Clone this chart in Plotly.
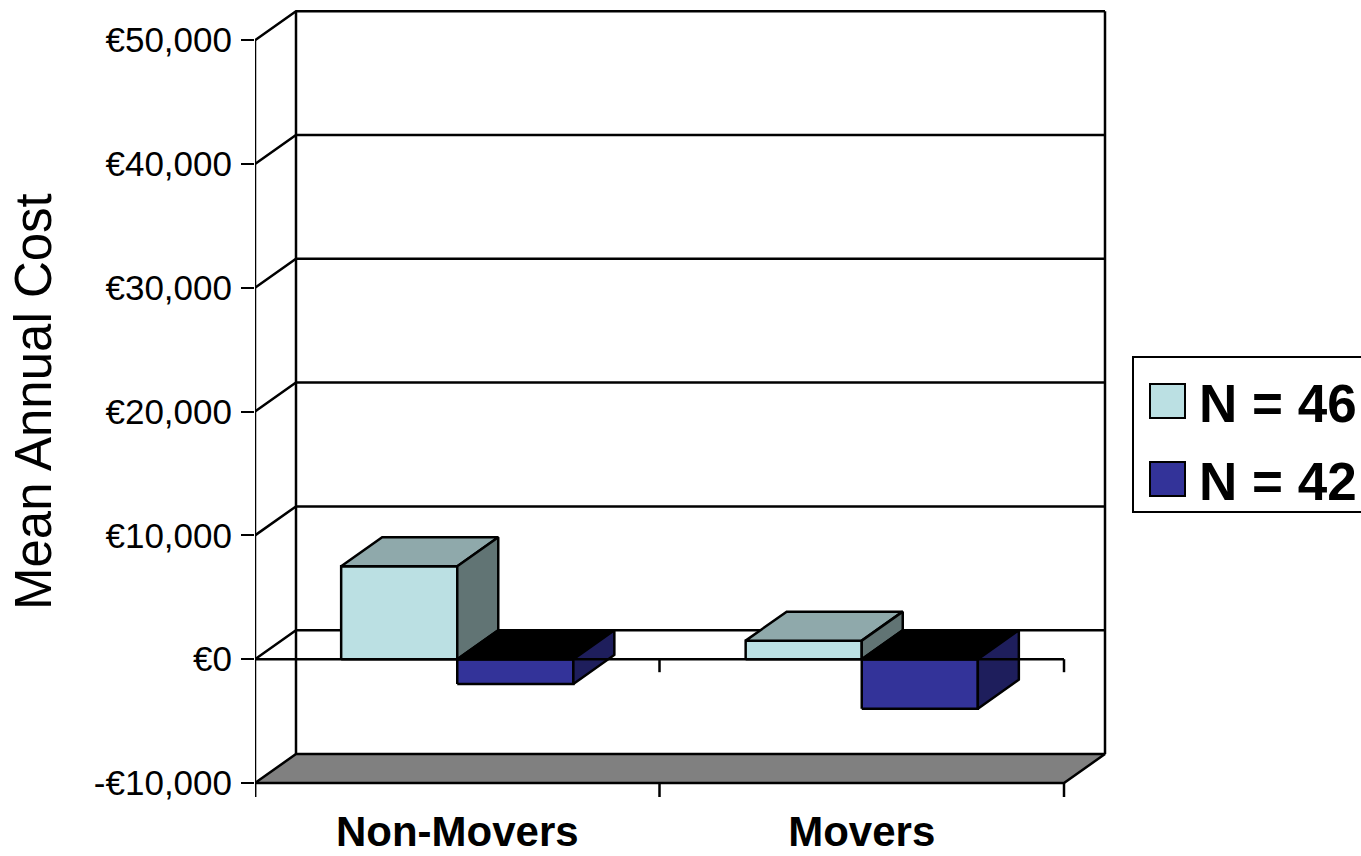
import plotly.graph_objects as go

# ---------------- data ----------------
categories = ["Non-Movers", "Movers"]
series_names = ["N = 46", "N = 42"]
n46_values = [7500, 1500]
n42_values = [-2000, -4000]
y_tick_values = [-10000, 0, 10000, 20000, 30000, 40000, 50000]
y_tick_labels = ["-€10,000", "€0", "€10,000", "€20,000", "€30,000", "€40,000", "€50,000"]
y_title = "Mean Annual Cost"

# ---------------- style ----------------
FONT = "Arial, Liberation Sans, sans-serif"
front_colors = ["#BBE0E3", "#333399"]
top_colors = ["#8FA9AB", "#000000"]
side_colors = ["#617474", "#1E1E5C"]
floor_color = "#808080"
W, H = 1361, 856
L, R, T, B = 255, 1108, 8, 797          # plot area in pixels
PX_PER_CAT = 404.5                       # pixels per category unit
PX_PER_1000 = 12.38                      # pixels per 1000 value units
DEPTH_PX = (41, 29)                      # 3D depth offset (right, up)
BAR_W = 0.287                            # bar width in category units
LW = 2.5

dx = DEPTH_PX[0] / PX_PER_CAT
dy = DEPTH_PX[1] / PX_PER_1000 * 1000
ncat = len(categories)
ymin_tick, ymax_tick = min(y_tick_values), max(y_tick_values)
x_range = [0, (R - L) / PX_PER_CAT]
y_bottom = ymin_tick - 14 / PX_PER_1000 * 1000  # extend 14px below floor
y_top = y_bottom + (B - T) / PX_PER_1000 * 1000
tick_len_val = 13 / PX_PER_1000 * 1000

fig = go.Figure()


def poly(xs, ys, fill, lw=LW, color="black"):
    fig.add_trace(go.Scatter(
        x=list(xs) + [xs[0]], y=list(ys) + [ys[0]],
        mode="lines", fill="toself" if fill else None, fillcolor=fill,
        line=dict(color=color, width=lw), hoverinfo="skip", showlegend=False))


def lines(xs, ys, lw=LW):
    fig.add_trace(go.Scatter(x=xs, y=ys, mode="lines",
                             line=dict(color="black", width=lw),
                             hoverinfo="skip", showlegend=False))


# floor
f = ymin_tick
poly([0, ncat, ncat + dx, dx], [f, f, f + dy, f + dy], floor_color)

# walls: gridlines (diagonal on left wall + horizontal on back wall)
gx, gy = [], []
for t in y_tick_values:
    if t == ymin_tick:
        continue
    gx += [0, dx, ncat + dx, None]
    gy += [t, t + dy, t + dy, None]
# back wall verticals
gx += [dx, dx, None, ncat + dx, ncat + dx, None]
gy += [ymin_tick + dy, ymax_tick + dy, None, ymin_tick + dy, ymax_tick + dy, None]
lines(gx, gy)

# bars (painter's order: left to right)
all_series = [n46_values, n42_values]
for ci in range(ncat):
    for si, vals in enumerate(all_series):
        v = vals[ci]
        x0 = ci + 0.5 - BAR_W + si * BAR_W
        x1 = x0 + BAR_W
        lo, hi = min(v, 0), max(v, 0)
        # front
        poly([x0, x1, x1, x0], [lo, lo, hi, hi], front_colors[si])
        # top
        poly([x0, x1, x1 + dx, x0 + dx], [hi, hi, hi + dy, hi + dy], top_colors[si])
        # side
        poly([x1, x1, x1 + dx, x1 + dx], [lo, hi, hi + dy, lo + dy], side_colors[si])

# front axes: zero line with ticks, left value axis line, bottom ticks
ax, ay = [0, ncat, None], [0, 0, None]
for k in range(1, ncat + 1):
    ax += [k, k, None]
    ay += [0, -tick_len_val, None]
ax += [0, 0, None]
ay += [y_bottom, ymax_tick, None]
for k in range(0, ncat + 1):
    ax += [k, k, None]
    ay += [ymin_tick, y_bottom, None]
lines(ax, ay)


# ---------------- legend (manual, large swatches) ----------------
def pxx(p):
    return (p - L) / (R - L)


def pxy(p):
    return (B - p) / (B - T)


shapes = [dict(type="rect", xref="paper", yref="paper",
               x0=pxx(1133), x1=pxx(1375), y0=pxy(512), y1=pxy(357),
               line=dict(color="black", width=2), fillcolor="white", layer="below")]
annotations = []
row_centers = [401, 479]
for si, name in enumerate(series_names):
    yc = row_centers[si]
    shapes.append(dict(type="rect", xref="paper", yref="paper",
                       x0=pxx(1150), x1=pxx(1185), y0=pxy(yc + 17), y1=pxy(yc - 17),
                       line=dict(color="black", width=2), fillcolor=front_colors[si]))
    annotations.append(dict(text=f"<b>{name}</b>", xref="paper", yref="paper",
                            x=pxx(1197), y=pxy(yc + 2), xanchor="left", yanchor="middle",
                            showarrow=False, font=dict(family=FONT, size=53, color="black")))

annotations.append(dict(text=y_title, xref="paper", yref="paper",
                        x=pxx(33), y=pxy(402), xanchor="center", yanchor="middle",
                        textangle=-90, showarrow=False,
                        font=dict(family=FONT, size=51, color="black")))

fig.update_layout(
    width=W, height=H,
    margin=dict(l=L, r=W - R, t=T, b=H - B, pad=0, autoexpand=False),
    paper_bgcolor="white", plot_bgcolor="rgba(0,0,0,0)",
    showlegend=False,
    shapes=shapes, annotations=annotations,
    xaxis=dict(range=x_range, tickvals=[i + 0.5 for i in range(ncat)],
               ticktext=[f"<b>{c}</b>" for c in categories],
               showgrid=False, zeroline=False, showline=False, ticks="",
               ticklabelstandoff=6, automargin=False,
               tickfont=dict(family=FONT, size=42, color="black"), fixedrange=True),
    yaxis=dict(range=[y_bottom, y_top], tickvals=y_tick_values, ticktext=y_tick_labels,
               showgrid=False, zeroline=False, showline=False,
               ticks="outside", ticklen=13, tickwidth=2, tickcolor="black",
               ticklabelstandoff=2, automargin=False,
               tickfont=dict(family=FONT, size=35, color="black"), fixedrange=True),
)

fig.write_html("out.html")
